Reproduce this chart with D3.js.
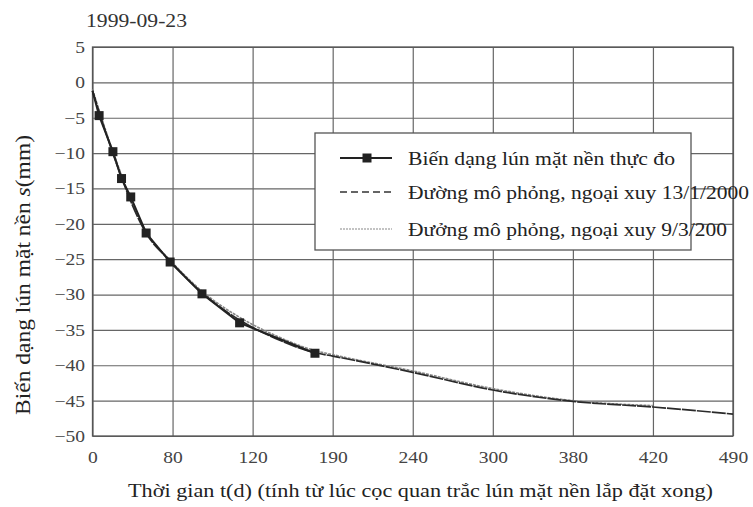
<!DOCTYPE html>
<html>
<head>
<meta charset="utf-8">
<script src="https://cdn.jsdelivr.net/npm/d3@7"></script>
<style>
  body { margin: 0; background: #fff; }
  text { font-family: "Liberation Serif", "Times New Roman", serif; fill: #222; }
</style>
</head>
<body>
<div id="chart-area"></div>
<script>
// tick labels (x axis is evenly spaced, not proportional)
var xTicks = [0, 80, 120, 190, 240, 300, 380, 420, 490];
var yTicks = [5, 0, -5, -10, -15, -20, -25, -30, -35, -40, -45, -50];

// measured settlement
var measuredDay = [0, 6.6, 20.4, 29, 38.2, 53.6, 77.6, 94.7, 113.5, 174.5];
var measuredS = [-1.2, -4.7, -9.8, -13.6, -16.2, -21.3, -25.4, -29.9, -34.0, -38.3];

// simulated, extrapolated 13/1/2000
var simADay = [0, 20, 53, 78, 95, 114, 140, 174, 190, 240, 300, 380, 420, 490];
var simAS = [-1.2, -9.9, -21.2, -25.3, -29.8, -33.7, -36.2, -38.2, -38.7, -41.0, -43.5, -45.1, -45.9, -46.9];

// simulated, extrapolated 9/3/2000
var simBDay = [0, 20, 53, 78, 95, 114, 140, 174, 190, 240, 300, 380, 420];
var simBS = [-1.0, -9.6, -21.0, -25.2, -29.6, -33.3, -35.8, -37.9, -38.5, -40.8, -43.3, -45.0, -45.7];

var legendLabels = [
  'Biến dạng lún mặt nền thực đo',
  'Đường mô phỏng, ngoại xuy 13/1/2000',
  'Đưởng mô phỏng, ngoại xuy 9/3/200'
];

var margin = { top: 47, left: 92.5, bottom: 71, right: 20 };
var width = 753 - margin.left - margin.right;
var height = 507 - margin.top - margin.bottom;
var sx = 'scale(1.15,1)';

var svg = d3.select('#chart-area').append('svg')
    .attr('width', 753)
    .attr('height', 507);

var g = svg.append('g').attr('transform', `translate(${margin.left}, ${margin.top})`);

var x = d3.scaleLinear()
    .domain(xTicks)
    .range(xTicks.map((d, i) => i * width / (xTicks.length - 1)));
var y = d3.scaleLinear().domain([-50, 5]).range([height, 0]);

// grid
var xAxisCall = d3.axisBottom(x).tickValues(xTicks).tickSize(-height).tickSizeOuter(0).tickFormat(d3.format('d'));
var xAxisGroup = g.append('g').attr('transform', `translate(0, ${height})`).call(xAxisCall);

var yAxisCall = d3.axisLeft(y).tickValues(yTicks).tickSize(-width).tickSizeOuter(0);
var yAxisGroup = g.append('g').call(yAxisCall);

[xAxisGroup, yAxisGroup].forEach(ax => {
  ax.select('.domain').remove();
  ax.selectAll('line').attr('stroke', '#666').attr('stroke-width', 1.2);
  ax.selectAll('text')
    .attr('font-size', 17)
    .style('fill', '#444');
});
xAxisGroup.selectAll('text').attr('y', 27).attr('dy', 0).attr('transform', sx);
yAxisGroup.selectAll('text').attr('x', -6.5).attr('transform', sx);

g.append('rect')
    .attr('width', width).attr('height', height)
    .attr('fill', 'none').attr('stroke', '#555').attr('stroke-width', 1.3);

// lines
var lineSmooth = d3.line().x(d => x(d[0])).y(d => y(d[1])).curve(d3.curveMonotoneX);
var lineStraight = d3.line().x(d => x(d[0])).y(d => y(d[1]));

var simB = d3.zip(simBDay, simBS);
var simA = d3.zip(simADay, simAS);
var measured = d3.zip(measuredDay, measuredS);

g.append('path').datum(simB)
    .attr('d', lineSmooth)
    .attr('fill', 'none').attr('stroke', '#888').attr('stroke-width', 1.6)
    .attr('stroke-dasharray', '3,1');

g.append('path').datum(simA)
    .attr('d', lineSmooth)
    .attr('fill', 'none').attr('stroke', '#2a2a2a').attr('stroke-width', 1.7)
    .attr('stroke-dasharray', '14,1');

g.append('path').datum(measured)
    .attr('d', lineStraight)
    .attr('fill', 'none').attr('stroke', '#222').attr('stroke-width', 2);

g.selectAll('.marker').data(measured.slice(1))
  .enter().append('rect')
    .attr('class', 'marker')
    .attr('x', d => x(d[0]) - 4.5)
    .attr('y', d => y(d[1]) - 4.5)
    .attr('width', 9).attr('height', 9)
    .attr('fill', '#222');

// legend
var legend = svg.append('g');
legend.append('rect')
    .attr('x', 315).attr('y', 133).attr('width', 376).attr('height', 117)
    .attr('fill', '#fff').attr('stroke', '#555').attr('stroke-width', 1.3);

var rowY = [158, 192, 229];
var textLen = [267, 341, 319];

legend.append('line')
    .attr('x1', 340).attr('x2', 392).attr('y1', rowY[0]).attr('y2', rowY[0])
    .attr('stroke', '#222').attr('stroke-width', 2);
legend.append('rect')
    .attr('x', 362.5).attr('y', rowY[0] - 4.5).attr('width', 9).attr('height', 9)
    .attr('fill', '#222');
legend.append('line')
    .attr('x1', 340).attr('x2', 392).attr('y1', rowY[1]).attr('y2', rowY[1])
    .attr('stroke', '#333').attr('stroke-width', 1.6).attr('stroke-dasharray', '7,4');
legend.append('line')
    .attr('x1', 340).attr('x2', 392).attr('y1', rowY[2]).attr('y2', rowY[2])
    .attr('stroke', '#888').attr('stroke-width', 1.2).attr('stroke-dasharray', '2,1');

legend.selectAll('.ltext').data(legendLabels)
  .enter().append('text')
    .attr('class', 'ltext')
    .attr('x', 408)
    .attr('y', (d, i) => rowY[i] + 7)
    .attr('font-size', 18)
    .attr('textLength', (d, i) => textLen[i])
    .attr('lengthAdjust', 'spacingAndGlyphs')
    .text(d => d);

// titles
svg.append('text')
    .attr('x', 86).attr('y', 27)
    .attr('font-size', 19)
    .style('fill', '#333')
    .attr('textLength', 101).attr('lengthAdjust', 'spacingAndGlyphs')
    .text('1999-09-23');

svg.append('text')
    .attr('x', 128).attr('y', 497)
    .attr('font-size', 19)
    .attr('textLength', 585).attr('lengthAdjust', 'spacingAndGlyphs')
    .text('Thời gian t(d) (tính từ lúc cọc quan trắc lún mặt nền lắp đặt xong)');

var yTitle = svg.append('text')
    .attr('transform', 'translate(30, 275) rotate(-90)')
    .attr('text-anchor', 'middle')
    .attr('font-size', 20)
    .attr('textLength', 280).attr('lengthAdjust', 'spacingAndGlyphs');
yTitle.append('tspan').text('Biến dạng lún mặt nền ');
yTitle.append('tspan').attr('font-style', 'italic').text('s');
yTitle.append('tspan').text('(mm)');
</script>
</body>
</html>
